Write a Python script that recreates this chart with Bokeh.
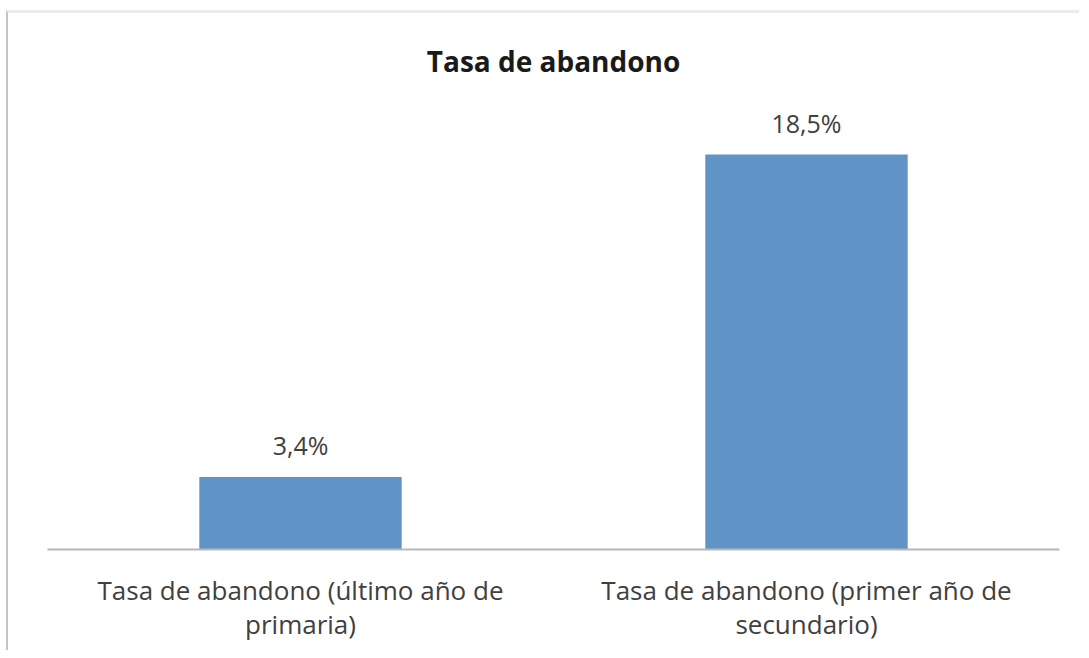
from bokeh.plotting import figure
from bokeh.models import ColumnDataSource, Range1d, LabelSet
from bokeh.core.properties import value
from bokeh.embed import file_html
from bokeh.resources import INLINE

categories = ["Tasa de abandono (último año de\nprimaria)",
              "Tasa de abandono (primer año de\nsecundario)"]
values = [3.4, 18.5]
value_labels = ["3,4%", "18,5%"]

src = ColumnDataSource(dict(cat=categories, val=values, lab=value_labels))

p = figure(x_range=categories, y_range=Range1d(0, 21.5),
           width=1073, height=640, output_backend="svg", toolbar_location=None,
           min_border_left=39, min_border_right=22, min_border_top=77, min_border_bottom=104,
           title="Tasa de abandono",
           styles={"border-top": "3px solid #ebebeb", "border-left": "2px solid #c4c4c4",
                   "margin-left": "6px", "margin-top": "10px"})
p.outline_line_color = None
p.grid.visible = False
p.yaxis.visible = False

p.vbar(x="cat", top="val", width=0.40, source=src, fill_color="#6094c7", line_color=None)

labels = LabelSet(x="cat", y="val", text="lab", source=src, text_align="center",
                  text_baseline="alphabetic", y_offset=22, text_font=value("Open Sans"),
                  text_font_size="25px", text_color="#404040")
p.add_layout(labels)

p.title.align = "center"
p.title.text_font = "Open Sans"
p.title.text_font_size = "28px"
p.title.text_font_style = "bold"
p.title.text_color = "#1a1a1a"
p.title.standoff = 21

ax = p.xaxis[0]
ax.axis_line_color = "#b8b8b8"
ax.axis_line_width = 2
ax.major_tick_line_color = None
ax.minor_tick_line_color = None
ax.major_label_text_font = "Open Sans"
ax.major_label_text_font_size = "26px"
ax.major_label_text_color = "#404040"
ax.major_label_text_line_height = 0.95
ax.major_label_standoff = 16

open("out.html", "w").write(file_html(p, INLINE))
